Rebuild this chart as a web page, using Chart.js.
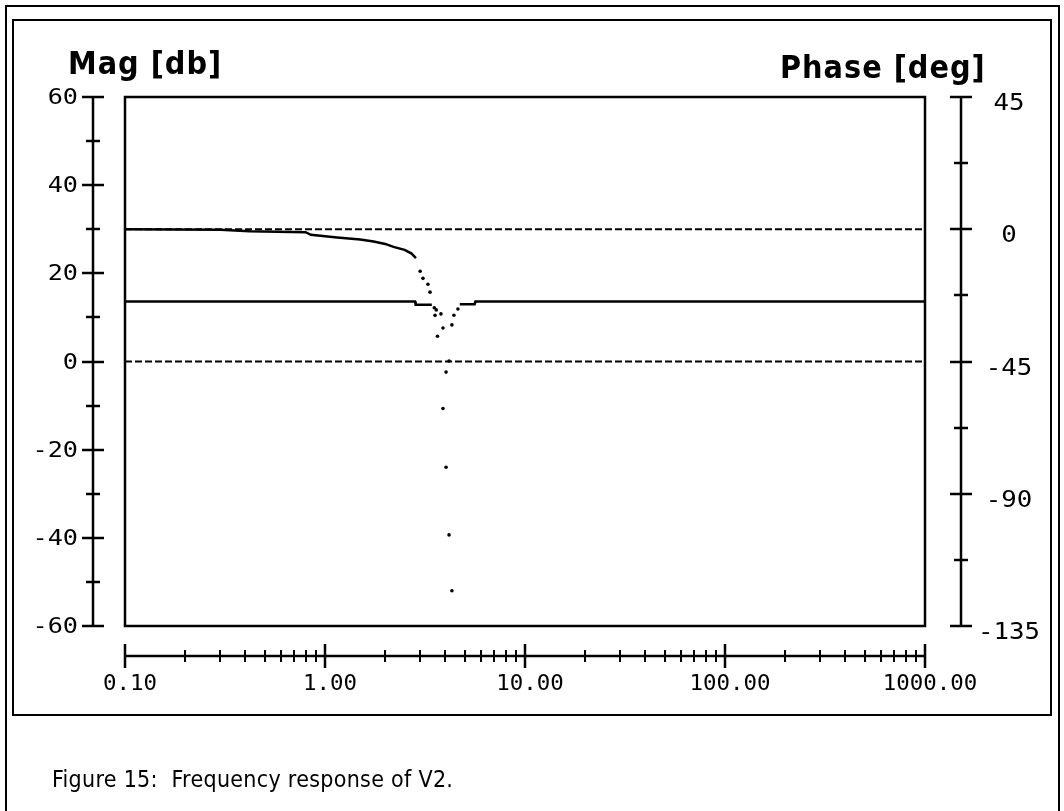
<!DOCTYPE html>
<html>
<head>
<meta charset="utf-8">
<script src="https://cdn.jsdelivr.net/npm/chart.js@4.4.1/dist/chart.umd.min.js"></script>
<style>
  html, body { margin: 0; padding: 0; background: #fff; }
  #wrap { position: relative; width: 1064px; height: 811px; overflow: hidden; }
  #chart { position: absolute; left: 0; top: 0; }
  .txt { position: absolute; color: #000; white-space: pre; line-height: 1; }
  #magTitle { left: 68px; top: 44px; font: bold 32px "DejaVu Sans Condensed", "DejaVu Sans"; letter-spacing: 1px; }
  #phaseTitle { left: 780px; top: 48px; font: bold 32px "DejaVu Sans Condensed", "DejaVu Sans"; letter-spacing: 1px; }
  #caption { left: 52px; top: 766px; font: 23px "DejaVu Sans Condensed", "DejaVu Sans"; letter-spacing: 0.3px; }
</style>
</head>
<body>
<div id="wrap">
  <canvas id="chart" width="1064" height="811"></canvas>
  <div class="txt" id="magTitle">Mag [db]</div>
  <div class="txt" id="phaseTitle">Phase [deg]</div>
  <div class="txt" id="caption">Figure 15:  Frequency response of V2.</div>
</div>
<script>
// axis ticks
const freqTicks = [0.1, 1, 10, 100, 1000];
const freqLabels = ['0.10', '1.00', '10.00', '100.00', '1000.00'];
const magTicks = [60, 40, 20, 0, -20, -40, -60];
const magMinor = [50, 30, 10, -10, -30, -50];
const phaseTicks = [45, 0, -45, -90, -135];
const phaseMinor = [22.5, -22.5, -67.5, -112.5];

// magnitude [dB], solid part and the sparse dots round the notch
const magFreq = [0.1, 0.5, 1, 2, 2.82, 2.84, 3.42];
const magDb = [13.6, 13.6, 13.6, 13.6, 13.6, 12.9, 12.9];
const magFreq2 = [4.72, 5.6, 5.65, 10, 100, 1000];
const magDb2 = [13.0, 13.0, 13.6, 13.6, 13.6, 13.6];
const magDotFreq = [3.52, 3.6, 3.8, 3.89, 4.03, 4.17, 4.31, 4.41, 4.62];
const magDotDb = [12.2, 11.7, 10.8, 7.6, -2.4, 0.1, 8.3, 10.5, 11.9];

// phase [deg]
const phaseFreq = [0.1, 0.3, 0.42, 0.8, 0.85, 1.15, 1.5, 1.75, 2.0, 2.2, 2.5, 2.7, 2.85];
const phaseDeg = [0, -0.2, -0.7, -1.0, -1.9, -2.8, -3.5, -4.2, -5.0, -6.0, -7.0, -8.2, -9.8];
const phaseDotFreq = [2.99, 3.09, 3.27, 3.35, 3.55, 3.65, 3.89, 4.03, 4.17, 4.31];
const phaseDotDeg = [-14.3, -16.7, -18.7, -21.4, -29.3, -36.4, -61, -81, -104, -123];

// dashed reference lines (phase)
const refPhase = [0, -45];

const pts = (xs, ys) => xs.map((x, i) => ({ x: x, y: ys[i] }));

// wide bitmap-ish digits: draw stretched horizontally
function wideText(c, s, x, y, align, sx) {
  const w = c.measureText(s).width * sx;
  let x0 = x;
  if (align === 'right') x0 = x - w;
  else if (align === 'center') x0 = x - w / 2;
  c.save();
  c.translate(x0, y);
  c.scale(sx, 1);
  c.textAlign = 'left';
  c.fillText(s, 0, 0);
  c.restore();
  return w;
}

const framePlugin = {
  id: 'frames',
  beforeDraw(chart) {
    const c = chart.ctx;
    c.save();
    c.fillStyle = '#fff';
    c.fillRect(0, 0, chart.width, chart.height);
    c.strokeStyle = '#000';
    c.lineWidth = 2;
    // outer and inner frames
    c.strokeRect(6, 6, 1053, 830);
    c.strokeRect(13, 20, 1038, 695);
    c.restore();
  },
  afterDraw(chart) {
    const c = chart.ctx;
    const a = chart.chartArea;
    const xs = chart.scales.x, ms = chart.scales.mag, ps = chart.scales.phase;
    c.save();
    c.strokeStyle = '#000';
    c.fillStyle = '#000';
    c.lineWidth = 2.5;
    // plot box
    c.strokeRect(a.left, a.top, a.right - a.left, a.bottom - a.top);

    const hline = (x1, x2, y) => { c.beginPath(); c.moveTo(x1, y); c.lineTo(x2, y); c.stroke(); };
    const vline = (x, y1, y2) => { c.beginPath(); c.moveTo(x, y1); c.lineTo(x, y2); c.stroke(); };

    // left axis (magnitude)
    const lx = a.left - 32;
    vline(lx, ms.getPixelForValue(60), ms.getPixelForValue(-60));
    c.font = '21px "DejaVu Sans Mono"';
    c.textBaseline = 'middle';
    magTicks.forEach(v => {
      const y = Math.round(ms.getPixelForValue(v));
      hline(lx - 11, lx + 11, y);
      wideText(c, String(v), lx - 15, y + 2, 'right', 1.2);
    });
    magMinor.forEach(v => {
      const y = Math.round(ms.getPixelForValue(v));
      hline(lx - 7, lx + 7, y);
    });

    // right axis (phase)
    const rx = a.right + 36;
    vline(rx, ps.getPixelForValue(45), ps.getPixelForValue(-135));
    c.font = '23px "DejaVu Sans Mono"';
    phaseTicks.forEach(v => {
      const y = Math.round(ps.getPixelForValue(v));
      hline(rx - 11, rx + 11, y);
      const s = String(v);
      const w = c.measureText(s).width * 1.12;
      wideText(c, s, Math.max(rx + 17, rx + 48 - w / 2), y + 7, 'left', 1.12);
    });
    phaseMinor.forEach(v => {
      const y = Math.round(ps.getPixelForValue(v));
      hline(rx - 7, rx + 7, y);
    });

    // x axis (frequency, log)
    const by = a.bottom + 30;
    hline(xs.getPixelForValue(0.1), xs.getPixelForValue(1000), by);
    c.font = '22px "DejaVu Sans Mono"';
    freqTicks.forEach((v, i) => {
      const x = Math.round(xs.getPixelForValue(v));
      vline(x, by - 12, by + 12);
      wideText(c, freqLabels[i], x + 5, by + 28, 'center', 1.02);
    });
    c.lineWidth = 2;
    for (let d = 0; d < freqTicks.length - 1; d++) {
      for (let k = 2; k <= 9; k++) {
        const x = Math.round(xs.getPixelForValue(freqTicks[d] * k));
        vline(x, by - 6, by + 6);
      }
    }
    c.restore();
  }
};

const black = '#000';
const dash = [7, 3];
new Chart(document.getElementById('chart'), {
  type: 'line',
  data: {
    datasets: [
      { data: pts([0.1, 1000], [refPhase[0], refPhase[0]]), yAxisID: 'phase', borderColor: black, borderWidth: 2, borderDash: dash, pointRadius: 0 },
      { data: pts([0.1, 1000], [refPhase[1], refPhase[1]]), yAxisID: 'phase', borderColor: black, borderWidth: 2, borderDash: dash, pointRadius: 0 },
      { data: pts(magFreq, magDb), yAxisID: 'mag', borderColor: black, borderWidth: 2.5, pointRadius: 0 },
      { data: pts(magFreq2, magDb2), yAxisID: 'mag', borderColor: black, borderWidth: 2.5, pointRadius: 0 },
      { data: pts(magDotFreq, magDotDb), yAxisID: 'mag', showLine: false, pointRadius: 1.8, pointBorderWidth: 0, pointBackgroundColor: black },
      { data: pts(phaseFreq, phaseDeg), yAxisID: 'phase', borderColor: black, borderWidth: 2.5, pointRadius: 0 },
      { data: pts(phaseDotFreq, phaseDotDeg), yAxisID: 'phase', showLine: false, pointRadius: 1.8, pointBorderWidth: 0, pointBackgroundColor: black }
    ]
  },
  options: {
    responsive: false,
    animation: false,
    devicePixelRatio: 1,
    layout: { padding: { left: 125, top: 97, right: 139, bottom: 185 } },
    plugins: { legend: { display: false }, tooltip: { enabled: false } },
    scales: {
      x: { type: 'logarithmic', min: 0.1, max: 1000, display: false },
      mag: { type: 'linear', position: 'left', min: -60, max: 60, display: false },
      phase: { type: 'linear', position: 'right', min: -135, max: 45, display: false }
    }
  },
  plugins: [framePlugin]
});
</script>
</body>
</html>
